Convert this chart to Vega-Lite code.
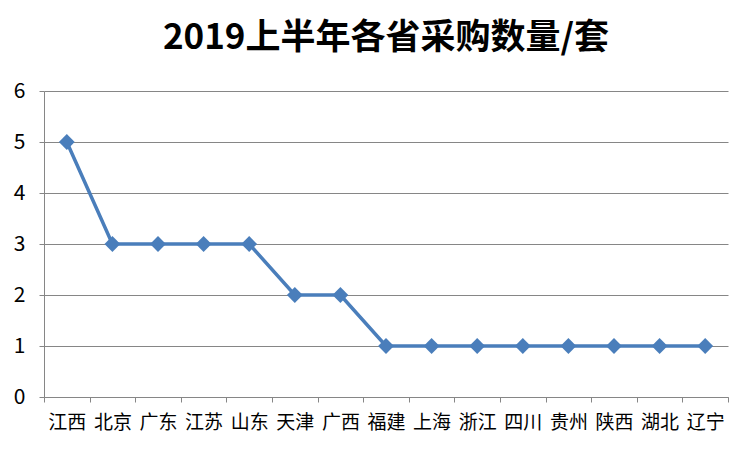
{
  "$schema": "https://vega.github.io/schema/vega-lite/v6.json",
  "autosize": {"type": "none"},
  "width": 684,
  "height": 306,
  "padding": {"left": 44, "top": 91, "right": 24, "bottom": 55},
  "background": "white",
  "title": {
    "text": "2019上半年各省采购数量/套",
    "font": "Noto Sans CJK SC",
    "fontSize": 35,
    "fontWeight": "bold",
    "color": "#000000",
    "anchor": "middle",
    "offset": 24
  },
  "config": {
    "view": {"stroke": null},
    "font": "Noto Sans CJK SC"
  },
  "data": {
    "values": [
      {"province": "江西", "count": 5},
      {"province": "北京", "count": 3},
      {"province": "广东", "count": 3},
      {"province": "江苏", "count": 3},
      {"province": "山东", "count": 3},
      {"province": "天津", "count": 2},
      {"province": "广西", "count": 2},
      {"province": "福建", "count": 1},
      {"province": "上海", "count": 1},
      {"province": "浙江", "count": 1},
      {"province": "四川", "count": 1},
      {"province": "贵州", "count": 1},
      {"province": "陕西", "count": 1},
      {"province": "湖北", "count": 1},
      {"province": "辽宁", "count": 1}
    ]
  },
  "encoding": {
    "x": {
      "field": "province",
      "type": "nominal",
      "sort": null,
      "scale": {"paddingInner": 0, "paddingOuter": 0},
      "axis": {
        "title": null,
        "labelAngle": 0,
        "labelFont": "Noto Sans CJK SC",
        "labelFontSize": 19,
        "labelColor": "#000000",
        "labelPadding": 11,
        "tickBand": "extent",
        "tickSize": 5,
        "tickColor": "#868686",
        "domainColor": "#868686",
        "grid": false
      }
    },
    "y": {
      "field": "count",
      "type": "quantitative",
      "scale": {"domain": [0, 6]},
      "axis": {
        "title": null,
        "values": [0, 1, 2, 3, 4, 5, 6],
        "labelFont": "Noto Sans CJK SC",
        "labelFontSize": 21,
        "labelColor": "#000000",
        "labelPadding": 14,
        "tickSize": 5,
        "tickColor": "#868686",
        "domainColor": "#868686",
        "gridColor": "#868686",
        "gridWidth": 1
      }
    }
  },
  "layer": [
    {
      "mark": {"type": "line", "color": "#4A7EBB", "strokeWidth": 3.5}
    },
    {
      "mark": {"type": "point", "shape": "diamond", "filled": true, "color": "#4A7EBB", "size": 250, "opacity": 1}
    }
  ]
}
